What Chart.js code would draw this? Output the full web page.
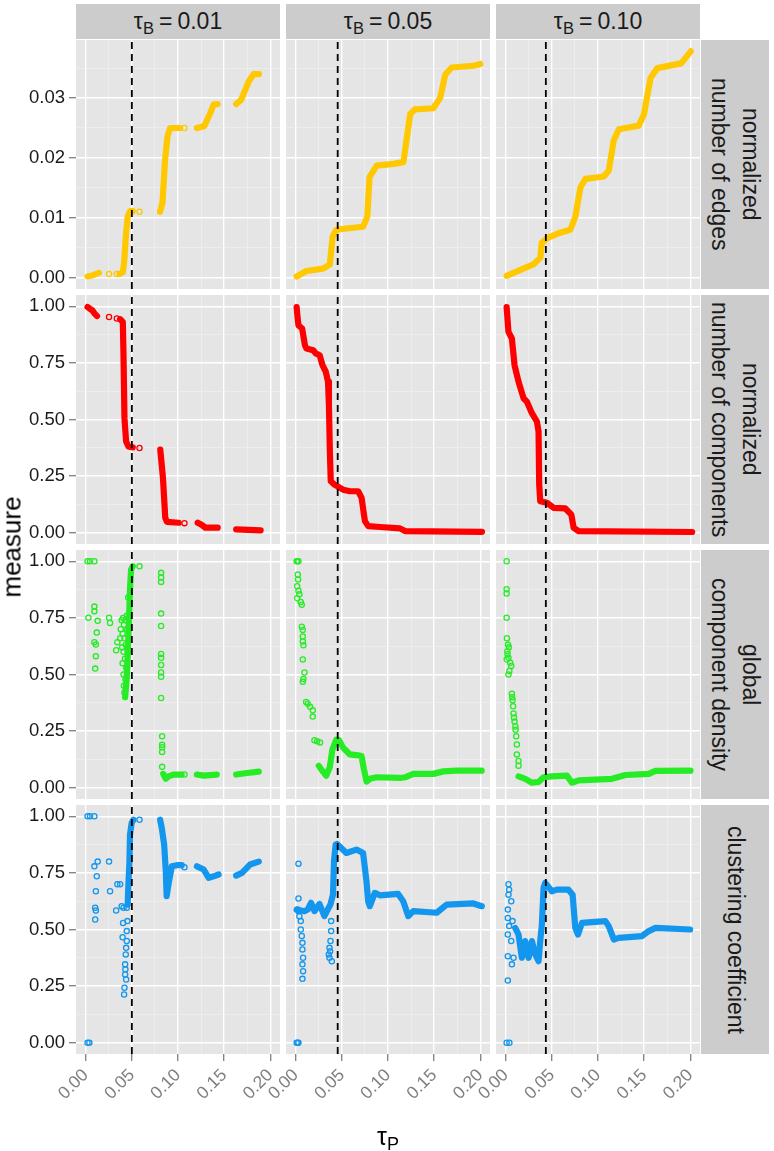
<!DOCTYPE html>
<html><head><meta charset="utf-8">
<script src="https://cdn.jsdelivr.net/npm/chart.js@4.4.0/dist/chart.umd.min.js"></script>
<style>
body{margin:0;background:#fff;}
#root{position:relative;width:774px;height:1151px;overflow:hidden;font-family:"Liberation Sans",Arial,Helvetica,sans-serif;color:#1a1a1a;}
.strip{position:absolute;background:#CCCCCC;color:#1a1a1a;display:flex;align-items:center;justify-content:center;}
.top{font-size:23px;white-space:nowrap;}
.side{font-size:23px;writing-mode:vertical-rl;text-align:center;line-height:31px;white-space:nowrap;}
.sub{font-size:0.72em;position:relative;top:0.3em;}
.eq{margin:0 5px;}
.lbl{position:absolute;white-space:nowrap;color:#000;}
</style></head><body><div id="root"></div>
<script>
// ---------------- data ----------------
const tauBLabels = ['0.01', '0.05', '0.10'];
const measureLabels = [['normalized', 'number of edges'], ['normalized', 'number of components'], ['global', 'component density'], ['clustering coefficient']];
const thresholds = [0.050, 0.0455, 0.0435];
const xMajorTicks = [0, 0.05, 0.10, 0.15, 0.20];
const xMinorTicks = [0.025, 0.075, 0.125, 0.175];
const yMajorEdges = [0, 0.01, 0.02, 0.03];
const yMinorEdges = [0.005, 0.015, 0.025, 0.035];
const yMajorUnit = [0, 0.25, 0.50, 0.75, 1.00];
const yMinorUnit = [0.125, 0.375, 0.625, 0.875];
const rowColors = ['#FFC800', '#FF0000', '#26EC26', '#1396EE'];

// normalized number of edges
const edgesB01Band = [[0.002,0.0002],[0.008,0.0004],[0.0143,0.0008],null,
 [0.0365,0.0006],[0.0402,0.0009],[0.0416,0.0025],[0.0438,0.0075],[0.0456,0.0103],[0.0481,0.0111],[0.051,0.0111],null,
 [0.0806,0.011],[0.0832,0.0125],[0.086,0.0197],[0.0886,0.0236],[0.0915,0.025],[0.1024,0.025],null,
 [0.1204,0.025],[0.1284,0.0253],[0.135,0.0275],[0.1386,0.0289],[0.143,0.029],null,
 [0.163,0.029],[0.1684,0.0297],[0.1767,0.0328],[0.1821,0.034],[0.1876,0.034]];
const edgesB01Pts = [[0.0253,0.0006],[0.0336,0.0006],[0.0583,0.011],[0.107,0.025]];
const edgesB05Band = [[0.001,0.0002],[0.0116,0.0011],[0.0297,0.0015],[0.037,0.0022],[0.040,0.0068],[0.044,0.0080],[0.055,0.0082],[0.073,0.0085],[0.0776,0.0102],[0.080,0.0168],[0.0877,0.0187],[0.106,0.019],[0.1167,0.0193],[0.120,0.0229],[0.124,0.0273],[0.129,0.0281],[0.149,0.0283],[0.1565,0.030],[0.162,0.0339],[0.169,0.0351],[0.1927,0.0354],[0.200,0.0357]];
const edgesB05Pts = [];
const edgesB10Band = [[0.001,0.0003],[0.016,0.0013],[0.030,0.0022],[0.0375,0.0033],[0.039,0.0058],[0.045,0.0066],[0.057,0.0074],[0.070,0.008],[0.0755,0.0102],[0.081,0.0151],[0.0864,0.0165],[0.1063,0.0169],[0.1117,0.0179],[0.117,0.0229],[0.1226,0.0248],[0.1443,0.0254],[0.1498,0.0273],[0.157,0.0334],[0.1643,0.035],[0.190,0.0358],[0.2005,0.0378]];
const edgesB10Pts = [];

// normalized number of components
const compB01Band = [[0.002,0.997],[0.0043,0.990],[0.0072,0.982],[0.0097,0.968],[0.0123,0.957],null,
 [0.0373,0.943],[0.0402,0.931],[0.0409,0.799],[0.042,0.506],[0.0438,0.403],[0.0463,0.381],[0.051,0.377],null,
 [0.0808,0.367],[0.0837,0.242],[0.0862,0.066],[0.088,0.048],[0.1007,0.044],null,
 [0.1213,0.044],[0.126,0.034],[0.1297,0.022],[0.143,0.022],null,
 [0.163,0.0145],[0.1895,0.010]];
const compB01Pts = [[0.0253,0.953],[0.0337,0.946],[0.0583,0.374],[0.107,0.042]];
const compB05Band = [[0.001,0.997],[0.002,0.953],[0.003,0.916],[0.007,0.902],[0.010,0.828],[0.0116,0.814],[0.019,0.806],[0.0217,0.792],[0.026,0.784],[0.029,0.74],[0.0326,0.711],[0.035,0.667],[0.036,0.564],[0.037,0.359],[0.038,0.227],[0.042,0.2125],[0.0514,0.19],[0.0587,0.183],[0.0677,0.183],[0.0714,0.154],[0.075,0.051],[0.0786,0.029],[0.0913,0.025],[0.113,0.019],[0.1185,0.007],[0.2018,0.004]];
const compB05Pts = [];
const compB10Band = [[0.001,0.997],[0.003,0.887],[0.0067,0.858],[0.0096,0.74],[0.0139,0.667],[0.0193,0.594],[0.0229,0.579],[0.0284,0.528],[0.0338,0.491],[0.0356,0.447],[0.0363,0.2125],[0.0374,0.139],[0.0447,0.132],[0.0519,0.110],[0.0646,0.107],[0.0711,0.080],[0.0736,0.022],[0.079,0.007],[0.2020,0.003]];
const compB10Pts = [];

// global component density
const densB01Band = [[0.0427,0.40],[0.0445,0.487],[0.0463,0.66],[0.048,0.877],[0.0492,0.964],[0.051,0.978],null,
 [0.084,0.061],[0.0868,0.039],[0.0897,0.05],[0.095,0.058],[0.104,0.058],null,
 [0.1204,0.058],[0.128,0.053],[0.142,0.058],null,
 [0.163,0.058],[0.175,0.065],[0.1875,0.071]];
const densB01Pts = [[0.002,1],[0.0047,1],[0.0094,1],[0.0029,0.751],[0.0094,0.80],[0.0094,0.779],[0.013,0.737],[0.012,0.685],[0.0094,0.643],[0.011,0.632],[0.011,0.581],[0.0103,0.526],[0.0253,0.751],[0.0264,0.728],[0.033,0.607],[0.0343,0.643],[0.0373,0.66],
 [0.038,0.70],[0.039,0.74],[0.0395,0.62],[0.040,0.68],[0.040,0.55],[0.0405,0.75],[0.041,0.60],[0.041,0.50],[0.0415,0.72],[0.0415,0.45],[0.042,0.66],[0.042,0.42],[0.0425,0.57],[0.043,0.48],[0.043,0.74],[0.0435,0.63],[0.044,0.53],[0.0445,0.76],[0.045,0.70],[0.0455,0.60],[0.046,0.84],
 [0.0583,0.978],
 [0.0817,0.949],[0.0817,0.928],[0.0817,0.909],[0.0817,0.769],[0.0817,0.714],[0.0817,0.591],[0.0817,0.574],[0.0817,0.542],[0.0817,0.509],[0.0817,0.49],[0.0817,0.396],[0.0828,0.227],[0.0828,0.19],[0.0828,0.179],[0.0828,0.158],[0.0828,0.092],[0.107,0.058]];
const densB05Band = [[0.025,0.097],[0.0275,0.082],[0.033,0.053],[0.0369,0.09],[0.0398,0.169],[0.044,0.212],[0.047,0.21],[0.0514,0.176],[0.0587,0.147],[0.0677,0.143],[0.0713,0.14],[0.0739,0.082],[0.0768,0.027],[0.0804,0.039],[0.0877,0.046],[0.113,0.043],[0.1184,0.046],[0.1274,0.061],[0.149,0.061],[0.16,0.072],[0.174,0.075],[0.2015,0.075]];
const densB05Pts = [[0.001,1],[0.002,1],[0.003,1],[0.0023,0.942],[0.0026,0.92],[0.0016,0.89],[0.003,0.87],[0.004,0.855],[0.0016,0.837],[0.0055,0.82],[0.0066,0.808],[0.0066,0.711],[0.0077,0.697],[0.0077,0.668],[0.0077,0.646],[0.0084,0.629],[0.0077,0.566],[0.0095,0.509],[0.0084,0.48],[0.0077,0.468],[0.0113,0.379],[0.0131,0.371],[0.0156,0.357],[0.0185,0.342],[0.0185,0.314],[0.0203,0.21],[0.0232,0.205],[0.0264,0.20]];
const densB10Band = [[0.0139,0.05],[0.0212,0.039],[0.0284,0.022],[0.0356,0.025],[0.041,0.046],[0.0501,0.05],[0.0664,0.053],[0.0718,0.022],[0.079,0.032],[0.1152,0.039],[0.1297,0.056],[0.155,0.061],[0.1622,0.074],[0.2002,0.075]];
const densB10Pts = [[0.001,1],[0.001,0.877],[0.001,0.858],[0.001,0.751],
 [0.0013,0.66],[0.0025,0.632],[0.0018,0.603],[0.003,0.574],[0.0011,0.566],[0.0049,0.552],[0.006,0.538],[0.004,0.516],[0.003,0.50],[0.002,0.59],[0.0035,0.62],
 [0.0067,0.415],[0.0075,0.386],[0.0085,0.328],[0.0096,0.292],[0.0107,0.256],[0.0114,0.227],[0.0121,0.191],[0.0121,0.147],[0.0139,0.118],[0.0139,0.097],[0.007,0.40],[0.008,0.36],[0.009,0.31],[0.0105,0.27]];

// clustering coefficient
const clusB01Band = [[0.0455,0.61],[0.0463,0.70],[0.0474,0.80],[0.048,0.919],[0.0498,0.971],[0.0517,0.985],null,
 [0.0806,0.985],[0.0824,0.949],[0.085,0.875],[0.0868,0.757],[0.0877,0.647],[0.0897,0.70],[0.0933,0.779],[0.0988,0.784],[0.1041,0.784],null,
 [0.1205,0.779],[0.1278,0.765],[0.1332,0.728],[0.1386,0.735],[0.144,0.743],null,
 [0.163,0.738],[0.1693,0.75],[0.178,0.787],[0.1875,0.80]];
const clusB01Pts = [[0.002,0],[0.004,0],[0.002,1],[0.0047,1],[0.0094,1],[0.0094,0.779],[0.013,0.80],[0.012,0.735],[0.011,0.669],[0.0103,0.596],[0.011,0.584],[0.0103,0.544],[0.0253,0.80],[0.0264,0.669],[0.033,0.584],[0.0343,0.70],[0.0373,0.70],[0.039,0.603],[0.040,0.466],[0.0405,0.529],[0.041,0.596],
 [0.0416,0.213],[0.042,0.243],[0.0427,0.301],[0.0427,0.346],[0.0434,0.39],[0.0438,0.419],[0.0445,0.449],[0.0445,0.493],[0.0452,0.537],[0.0438,0.279],[0.043,0.324],[0.0445,0.596],[0.0583,0.985],[0.107,0.775]];
const clusB05Band = [[0.001,0.588],[0.0095,0.581],[0.013,0.588],[0.0166,0.618],[0.0203,0.581],[0.0257,0.613],[0.0311,0.559],[0.0347,0.588],[0.0376,0.61],[0.0404,0.654],[0.0415,0.801],[0.0433,0.875],[0.0448,0.878],[0.0549,0.838],[0.0658,0.853],[0.073,0.838],[0.0767,0.713],[0.0785,0.625],[0.0803,0.603],[0.0857,0.662],[0.0912,0.651],[0.111,0.657],[0.1165,0.625],[0.122,0.559],[0.1274,0.581],[0.1527,0.574],[0.1635,0.61],[0.1925,0.615],[0.2016,0.603]];
const clusB05Pts = [[0.001,0],[0.002,0],[0.003,0],[0.003,0.791],[0.003,0.637],[0.002,0.588],[0.003,0.581],[0.004,0.559],[0.0055,0.537],[0.0055,0.50],[0.0066,0.471],[0.0073,0.441],[0.0073,0.412],[0.008,0.375],[0.0073,0.346],[0.008,0.316],[0.0073,0.282],
 [0.0366,0.375],[0.0373,0.404],[0.0377,0.449],[0.0384,0.493],[0.0384,0.537],[0.0366,0.419],[0.0391,0.36],[0.0359,0.39]];
const clusB10Band = [[0.0103,0.507],[0.0139,0.478],[0.0175,0.375],[0.0211,0.449],[0.0248,0.375],[0.0284,0.449],[0.032,0.39],[0.0356,0.36],[0.0374,0.449],[0.0392,0.522],[0.041,0.684],[0.0428,0.706],[0.05,0.669],[0.0555,0.676],[0.068,0.676],[0.0725,0.654],[0.0754,0.507],[0.0783,0.478],[0.0826,0.529],[0.108,0.537],[0.1116,0.515],[0.1171,0.456],[0.1225,0.463],[0.1478,0.471],[0.155,0.493],[0.1623,0.507],[0.1998,0.50]];
const clusB10Pts = [[0.001,0],[0.004,0],[0.003,0.70],[0.0037,0.676],[0.003,0.654],[0.006,0.625],[0.0023,0.588],[0.0023,0.551],[0.0037,0.515],[0.0023,0.478],[0.0023,0.382],[0.0023,0.275],[0.0067,0.346],[0.0085,0.375],[0.006,0.449],[0.0074,0.537]];

const bandGrid = [[edgesB01Band, edgesB05Band, edgesB10Band],[compB01Band, compB05Band, compB10Band],[densB01Band, densB05Band, densB10Band],[clusB01Band, clusB05Band, clusB10Band]];
const ptsGrid = [[edgesB01Pts, edgesB05Pts, edgesB10Pts],[compB01Pts, compB05Pts, compB10Pts],[densB01Pts, densB05Pts, densB10Pts],[clusB01Pts, clusB05Pts, clusB10Pts]];

// ---------------- layout ----------------
const FONT = '"Liberation Sans", Arial, Helvetica, sans-serif';
const colLefts = [76, 286, 496];
const rowTops = [40, 295, 550, 805];
const PW = 204, PH = 249, YAXW = 76, XAXH = 70, LEFT_EXTRA = 34;
const X_MIN = -0.0105, X_MAX = 0.2105;
const rowYRange = [[-0.0019, 0.0397], [-0.05, 1.05], [-0.05, 1.05], [-0.05, 1.05]];
const root = document.getElementById('root');

const bgPlugin = {id: 'panelBg', beforeDraw(chart) {
  const {ctx, chartArea: a} = chart;
  ctx.save(); ctx.fillStyle = '#E5E5E5';
  ctx.fillRect(a.left, a.top, a.right - a.left, a.bottom - a.top); ctx.restore();
}};

function toXY(arr) {
  return arr.map((p, i) => p ? {x: p[0], y: p[1]} : {x: arr[i - 1][0], y: null});
}
function has(list, v) { return list.some(t => Math.abs(t - v) < 1e-9); }

function makePanel(r, c) {
  // left-hand space of the canvas: y axis for col 0, room for rotated labels on bottom row
  const yw = c === 0 ? YAXW : (r === 3 ? LEFT_EXTRA : 0);
  const left = colLefts[c] - yw;
  const w = PW + yw;
  const h = r === 3 ? PH + XAXH : PH;
  const wrap = document.createElement('div');
  wrap.style.cssText = `position:absolute;left:${left}px;top:${rowTops[r]}px;width:${w}px;height:${h}px;`;
  const cv = document.createElement('canvas');
  cv.width = w; cv.height = h; cv.style.width = w + 'px'; cv.style.height = h + 'px';
  wrap.appendChild(cv); root.appendChild(wrap);
  const [ymin, ymax] = rowYRange[r];
  const yMaj = r === 0 ? yMajorEdges : yMajorUnit;
  const yMin = r === 0 ? yMinorEdges : yMinorUnit;
  const yAll = [...yMaj, ...yMin].sort((a, b) => a - b);
  const xAll = [...xMajorTicks, ...xMinorTicks].sort((a, b) => a - b);
  const col = rowColors[r];
  const datasets = [
    {data: [{x: thresholds[c], y: ymin}, {x: thresholds[c], y: ymax}], showLine: true, borderColor: '#000', borderWidth: 1.8, borderDash: [7, 5], pointRadius: 0, clip: 0},
    {data: toXY(ptsGrid[r][c]), showLine: false, pointRadius: 2.6, pointBorderWidth: 1.3, pointBorderColor: col, pointBackgroundColor: 'rgba(0,0,0,0)', pointHoverRadius: 0},
    {data: toXY(bandGrid[r][c]), showLine: true, spanGaps: false, borderColor: col, borderWidth: 6.2, borderCapStyle: 'round', borderJoinStyle: 'round', pointRadius: 0, tension: 0}
  ];
  new Chart(cv, {
    type: 'scatter',
    data: {datasets},
    plugins: [bgPlugin],
    options: {
      responsive: false, animation: false, events: [],
      layout: {padding: 0, autoPadding: false},
      plugins: {legend: {display: false}, tooltip: {enabled: false}},
      scales: {
        x: {
          type: 'linear', min: X_MIN, max: X_MAX,
          afterBuildTicks: s => { s.ticks = xAll.map(v => ({value: v})); },
          afterFit: s => { s.height = r === 3 ? XAXH : 0; s.paddingLeft = 0; s.paddingRight = 0; },
          border: {display: false},
          grid: {
            color: ctx => (ctx.tick && has(xMajorTicks, ctx.tick.value)) ? '#FFFFFF' : '#F2F2F2',
            lineWidth: ctx => (ctx.tick && has(xMajorTicks, ctx.tick.value)) ? 1.4 : 0.6,
            drawTicks: r === 3, tickLength: 7, tickWidth: 1.3,
            tickColor: ctx => (ctx.tick && has(xMajorTicks, ctx.tick.value)) ? '#7F7F7F' : 'rgba(0,0,0,0)'
          },
          ticks: {
            display: r === 3, autoSkip: false, minRotation: 45, maxRotation: 45, padding: 4,
            color: '#808080', font: {family: FONT, size: 17.5},
            callback: v => has(xMajorTicks, v) ? v.toFixed(2) : ''
          }
        },
        y: {
          type: 'linear', min: ymin, max: ymax,
          afterBuildTicks: s => { s.ticks = yAll.map(v => ({value: v})); },
          afterFit: s => { s.width = yw; s.paddingTop = 0; s.paddingBottom = 0; },
          border: {display: false},
          grid: {
            color: ctx => (ctx.tick && has(yMaj, ctx.tick.value)) ? '#FFFFFF' : '#F2F2F2',
            lineWidth: ctx => (ctx.tick && has(yMaj, ctx.tick.value)) ? 1.4 : 0.6,
            drawTicks: c === 0, tickLength: 7, tickWidth: 1.3,
            tickColor: ctx => (ctx.tick && has(yMaj, ctx.tick.value)) ? '#7F7F7F' : 'rgba(0,0,0,0)'
          },
          ticks: {
            display: c === 0, autoSkip: false, padding: 4,
            color: '#1a1a1a', font: {family: FONT, size: 18.5},
            callback: v => has(yMaj, v) ? v.toFixed(2) : ''
          }
        }
      }
    }
  });
}

for (let r = 0; r < 4; r++) for (let c = 0; c < 3; c++) makePanel(r, c);

// strips
tauBLabels.forEach((t, c) => {
  const d = document.createElement('div');
  d.className = 'strip top';
  d.style.cssText = `left:${colLefts[c]}px;top:4px;width:${PW}px;height:35px;`;
  d.innerHTML = `<span>τ<span class="sub">B</span><span class="eq">=</span>${t}</span>`;
  root.appendChild(d);
});
measureLabels.forEach((lines, r) => {
  const d = document.createElement('div');
  d.className = 'strip';
  d.style.cssText = `left:701px;top:${rowTops[r]}px;width:68px;height:${PH}px;`;
  const inner = document.createElement('div');
  inner.className = 'side';
  inner.innerHTML = lines.join('<br>');
  d.appendChild(inner);
  root.appendChild(d);
});
// axis titles
const yt = document.createElement('div');
yt.className = 'lbl';
yt.style.cssText = 'left:12px;top:547px;font-size:26px;transform:translate(-50%,-50%) rotate(-90deg);';
yt.textContent = 'measure';
root.appendChild(yt);
const xt = document.createElement('div');
xt.className = 'lbl';
xt.style.cssText = 'left:388px;top:1136px;font-size:25px;transform:translate(-50%,-50%);';
xt.innerHTML = 'τ<span class="sub">P</span>';
root.appendChild(xt);
</script></body></html>
